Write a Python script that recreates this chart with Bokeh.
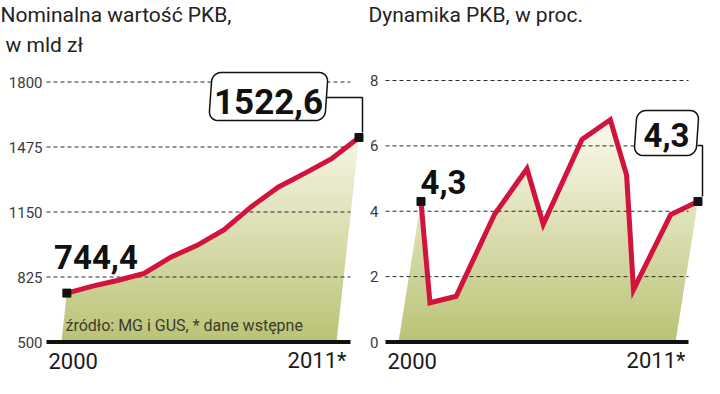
import numpy as np
from bokeh.plotting import figure
from bokeh.models import Range1d
from bokeh.layouts import row
from bokeh.core.properties import value
from bokeh.embed import file_html
from bokeh.resources import INLINE

# ---------------- data ----------------
years = list(range(2000, 2012))
nominal_gdp = [744.4, 779.6, 808.6, 843.2, 924.5, 983.3, 1060.0, 1176.7, 1275.4, 1344.5, 1416.6, 1522.6]
gdp_growth = [4.3, 1.2, 1.4, 3.9, 5.3, 3.6, 6.2, 6.8, 5.1, 1.6, 3.9, 4.3]
left_ticks = [500, 825, 1150, 1475, 1800]
right_ticks = [0, 2, 4, 6, 8]
x_labels = ["2000", "2011*"]
left_title = ["Nominalna wartość PKB,", "w mld zł"]
right_title = "Dynamika PKB, w proc."
source_note = "źródło: MG i GUS, * dane wstępne"
first_left_label = "744,4"
last_left_label = "1522,6"
first_right_label = "4,3"
last_right_label = "4,3"

# ---------------- style ----------------
H = 378
MID = 0.36             # text drawn with 'middle' anchor; centre = baseline - MID*size
LINE_COLOR = "#d1133d"
BOTTOM_RGB = np.array([186, 194, 116])
TOP_RGB = np.array([251, 250, 238])
BOLD_FONT = value("Roboto")
REG_FONT = value("Roboto")


def clip_half(pts, yv, above):
    out = []
    n = len(pts)
    for i in range(n):
        x1, y1 = pts[i]
        x2, y2 = pts[(i + 1) % n]
        in1 = (y1 >= yv) if above else (y1 <= yv)
        in2 = (y2 >= yv) if above else (y2 <= yv)
        if in1:
            out.append((x1, y1))
        if in1 != in2:
            t = (yv - y1) / (y2 - y1)
            out.append((x1 + t * (x2 - x1), yv))
    return out


def rounded_box(x0, y0, x1, y1, r, slant):
    pts = []
    corners = [(x1 - r, y0 + r, -90, 0), (x1 - r, y1 - r, 0, 90),
               (x0 + r, y1 - r, 90, 180), (x0 + r, y0 + r, 180, 270)]
    for cx, cy, a0, a1 in corners:
        for a in np.linspace(np.radians(a0), np.radians(a1), 7):
            pts.append((cx + r * np.cos(a), cy + r * np.sin(a)))
    cy = (y0 + y1) / 2
    return [(x + slant * (cy - y), y) for x, y in pts]


def make_panel(W, x_first_px, ppx, base_val, base_px, ppy, shear,
               values, ticks, grid_start, grid_end, tick_label_right):
    def X(fx):
        return years[0] + (fx - x_first_px) / ppx

    def Y(fy):
        return base_val + (base_px - fy) / ppy

    p = figure(width=W, height=H, x_range=Range1d(X(0), X(W)),
               y_range=Range1d(Y(H), Y(0)), output_backend="svg",
               toolbar_location=None, min_border=0,
               x_axis_location=None, y_axis_location=None)
    p.outline_line_color = None
    p.grid.visible = False

    def txt(fx, baseline_y, s, size, align="left", bold=False, color="#1a1a1a"):
        p.text([X(fx)], [Y(baseline_y - MID * size)], text=[s],
               text_font=BOLD_FONT if bold else REG_FONT,
               text_font_style="bold" if bold else "normal",
               text_font_size=f"{size}px", text_color=color,
               text_align=align, text_baseline="middle")

    vals = np.array(values, dtype=float)
    yrs = np.array(years, dtype=float)
    xs = yrs + shear * (vals - base_val) * ppy / ppx

    # gradient area (faux perspective)
    poly = [(yrs[0], base_val)] + list(zip(xs, vals)) + [(yrs[-1], base_val)]
    n = 70
    edges = np.linspace(base_val, vals.max() * 1.0001, n + 1)
    eps = 0.8 / ppy
    bx, by, bc = [], [], []
    for i in range(n):
        ya, yb = edges[i], edges[i + 1]
        part = clip_half(poly, ya, True)
        if len(part) < 3:
            continue
        part = clip_half(part, yb + eps, False)
        if len(part) < 3:
            continue
        fy = base_px - ((ya + yb) / 2 - base_val) * ppy
        t = np.clip((342 - fy) / 222.0, 0, 1)
        c = BOTTOM_RGB + t * (TOP_RGB - BOTTOM_RGB)
        bx.append([q[0] for q in part])
        by.append([q[1] for q in part])
        bc.append("#%02x%02x%02x" % tuple(int(round(v)) for v in c))
    p.patches(bx, by, fill_color=bc, line_color=None)

    # dashed grid lines
    gt = ticks[1:]
    p.segment(x0=[X(grid_start)] * len(gt), y0=gt, x1=[X(grid_end)] * len(gt), y1=gt,
              line_color="#2a2a2a", line_width=1, line_dash="4 3")
    # baseline
    p.segment(x0=[X(grid_start)], y0=[ticks[0]], x1=[X(grid_end)], y1=[ticks[0]],
              line_color="#111111", line_width=4)
    # y tick labels
    p.text([X(tick_label_right)] * len(ticks), ticks, text=[str(t) for t in ticks],
           text_font=REG_FONT, text_font_size="15px", text_color="#3a3a3a",
           text_align="right", text_baseline="middle")

    p.line(xs, vals, line_color=LINE_COLOR, line_width=5, line_join="miter")
    p.scatter([xs[0], xs[-1]], [vals[0], vals[-1]], marker="square", size=8,
              color="#111111")
    return p, X, Y, txt


# ---------------- left panel ----------------
pl, XL, YL, tl = make_panel(364, 61, 25.0, 500, 341.5, 0.2, 0.11,
                            nominal_gdp, left_ticks, 46, 350, 42)
tl(0, 22, left_title[0], 21, color="#222222")
tl(5, 52, left_title[1], 21, color="#222222")
tl(65, 331, source_note, 16, color="#3b3b30")
tl(48, 368, x_labels[0], 22)
tl(346, 368, x_labels[1], 22, align="right")
tl(95.5, 268, first_left_label, 33, align="center", bold=True, color="#111111")
box = rounded_box(210, 72, 326, 120, 9, 0.07)
pl.patch([XL(a) for a, b in box], [YL(b) for a, b in box], fill_color="white",
         line_color="#111111", line_width=1.5)
tl(268, 114, last_left_label, 35, align="center", bold=True, color="#111111")
pl.line([XL(326), XL(362), XL(362)], [YL(97), YL(97), YL(132)],
        line_color="#111111", line_width=1.5)

# ---------------- right panel ----------------
pr, XR, YR, tr = make_panel(340, 34, 25.18, 0, 341.5, 32.6875, 0.16,
                            gdp_growth, right_ticks, 21, 324, 14)
tr(4, 22, right_title, 21, color="#222222")
tr(23, 368, x_labels[0], 22)
tr(321, 368, x_labels[1], 22, align="right")
tr(79, 193, first_right_label, 33, align="center", bold=True, color="#111111")
box = rounded_box(271, 110, 333, 155, 9, 0.07)
pr.patch([XR(a) for a, b in box], [YR(b) for a, b in box], fill_color="white",
         line_color="#111111", line_width=1.5)
tr(302, 146, last_right_label, 33, align="center", bold=True, color="#111111")
pr.line([XR(333), XR(338), XR(338)], [YR(145), YR(145), YR(196)],
        line_color="#111111", line_width=1.5)

layout = row(pl, pr)
open("out.html", "w").write(file_html(layout, INLINE))
